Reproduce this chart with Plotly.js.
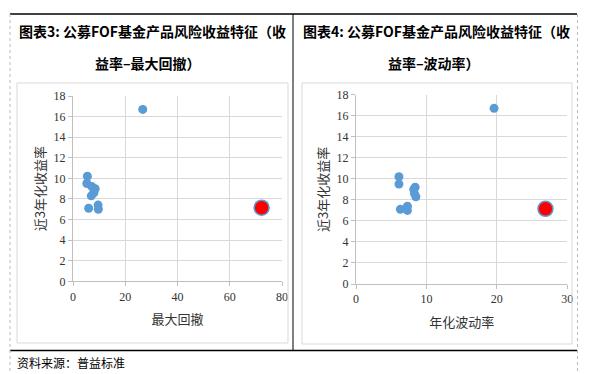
<!DOCTYPE html>
<html><head><meta charset="utf-8">
<script src="https://cdn.plot.ly/plotly-3.0.1.min.js"></script>
<style>html,body{margin:0;padding:0;background:#fff}#c{width:589px;height:374px}</style>
</head><body><div id="c"></div>
<script>
// Fund data (blue) and benchmark (red)
const maxDrawdown = [26.7, 5.5, 5.3, 7.2, 8.5, 8.0, 7.0, 6.0, 9.6, 9.7];
const volatility  = [19.6, 6.1, 6.1, 8.4, 8.2, 8.3, 8.5, 6.3, 7.3, 7.3];
const annReturn   = [16.7, 10.2, 9.5, 9.2, 9.0, 8.6, 8.3, 7.1, 7.4, 7.0];
const hlDrawdown = [72.2];
const hlVolatility = [26.9];
const hlReturn = [7.15];
const title3 = ['图表3: 公募FOF基金产品风险收益特征（收', '益率–最大回撤）'];
const title4 = ['图表4: 公募FOF基金产品风险收益特征（收', '益率–波动率）'];
const xTitle1 = '最大回撤', xTitle2 = '年化波动率', yTitle = '近3年化收益率';
const source = '资料来源：普益标准';

const W = 589, H = 374;
const px = x => x / W, py = y => 1 - y / H;
const blue = '#5b9bd5';
const tickFont = {family: "'Liberation Serif', 'DejaVu Serif', serif", size: 12, color: '#333333'};
const cjk = "'Noto Sans CJK SC', sans-serif";

const axBase = {
  showgrid: true, gridcolor: '#d9d9d9', gridwidth: 1,
  showline: true, linecolor: '#bfbfbf', linewidth: 1,
  zeroline: false, ticks: 'outside', ticklen: 4, tickcolor: '#bfbfbf',
  tickfont: tickFont, fixedrange: true
};

const traces = [
  {x: maxDrawdown, y: annReturn, xaxis: 'x', yaxis: 'y', mode: 'markers', type: 'scatter',
   marker: {color: blue, size: 9}},
  {x: hlDrawdown, y: hlReturn, xaxis: 'x', yaxis: 'y', mode: 'markers', type: 'scatter',
   marker: {color: '#ff0000', size: 15, line: {color: blue, width: 1.5}}},
  {x: volatility, y: annReturn, xaxis: 'x2', yaxis: 'y2', mode: 'markers', type: 'scatter',
   marker: {color: blue, size: 9}},
  {x: hlVolatility, y: hlReturn, xaxis: 'x2', yaxis: 'y2', mode: 'markers', type: 'scatter',
   marker: {color: '#ff0000', size: 15, line: {color: blue, width: 1.5}}}
];

const ytitle = {text: yTitle, font: {family: cjk, size: 13, color: '#333333'}, standoff: 5};
const xtf = {family: cjk, size: 13, color: '#333333'};

const layout = {
  width: W, height: H, margin: {l: 0, r: 0, t: 0, b: 0},
  paper_bgcolor: '#fff', plot_bgcolor: '#fff', showlegend: false,
  xaxis: Object.assign({}, axBase, {domain: [px(73), px(282)], range: [0, 80], dtick: 20, anchor: 'y',
    title: {text: xTitle1, font: xtf, standoff: 12}}),
  yaxis: Object.assign({}, axBase, {domain: [py(281.3), py(96)], range: [0, 18], dtick: 2, anchor: 'x',
    title: ytitle}),
  xaxis2: Object.assign({}, axBase, {domain: [px(356), px(567.3)], range: [0, 30], dtick: 10, anchor: 'y2',
    title: {text: xTitle2, font: xtf, standoff: 12}}),
  yaxis2: Object.assign({}, axBase, {domain: [py(284), py(94.7)], range: [0, 18], dtick: 2, anchor: 'x2',
    title: ytitle}),
  shapes: [
    {type: 'line', xref: 'paper', yref: 'paper', x0: px(10), x1: px(577), y0: py(14), y1: py(14), line: {color: '#000', width: 1.5}},
    {type: 'line', xref: 'paper', yref: 'paper', x0: px(10), x1: px(577), y0: py(350.5), y1: py(350.5), line: {color: '#000', width: 1.5}},
    {type: 'line', xref: 'paper', yref: 'paper', x0: px(293), x1: px(293), y0: py(14), y1: py(350.5), line: {color: '#000', width: 1}},
    {type: 'line', xref: 'paper', yref: 'paper', x0: px(10), x1: px(10), y0: py(14), y1: py(374), line: {color: '#bbbbbb', width: 1, dash: 'dot'}},
    {type: 'line', xref: 'paper', yref: 'paper', x0: px(577.5), x1: px(577.5), y0: py(14), y1: py(374), line: {color: '#bbbbbb', width: 1, dash: 'dot'}},
    {type: 'rect', xref: 'paper', yref: 'paper', x0: px(17), x1: px(288), y0: py(83), y1: py(343), line: {color: '#d9d9d9', width: 1}},
    {type: 'rect', xref: 'paper', yref: 'paper', x0: px(302), x1: px(572), y0: py(83), y1: py(344), line: {color: '#d9d9d9', width: 1}}
  ],
  annotations: [
    {text: '<b>' + title3[0] + '</b>', xref: 'paper', yref: 'paper', x: px(152), y: py(31), showarrow: false, xanchor: 'center', yanchor: 'middle', font: {family: cjk, size: 14, color: '#000'}},
    {text: '<b>' + title3[1] + '</b>', xref: 'paper', yref: 'paper', x: px(148), y: py(63), showarrow: false, xanchor: 'center', yanchor: 'middle', font: {family: cjk, size: 14, color: '#000'}},
    {text: '<b>' + title4[0] + '</b>', xref: 'paper', yref: 'paper', x: px(436), y: py(31), showarrow: false, xanchor: 'center', yanchor: 'middle', font: {family: cjk, size: 14, color: '#000'}},
    {text: '<b>' + title4[1] + '</b>', xref: 'paper', yref: 'paper', x: px(434), y: py(63), showarrow: false, xanchor: 'center', yanchor: 'middle', font: {family: cjk, size: 14, color: '#000'}},
    {text: source, xref: 'paper', yref: 'paper', x: px(15), y: py(362), showarrow: false, xanchor: 'left', yanchor: 'middle', font: {family: cjk, size: 12, color: '#000'}}
  ]
};

Plotly.newPlot('c', traces, layout, {staticPlot: true, displayModeBar: false});
</script>
</body></html>
